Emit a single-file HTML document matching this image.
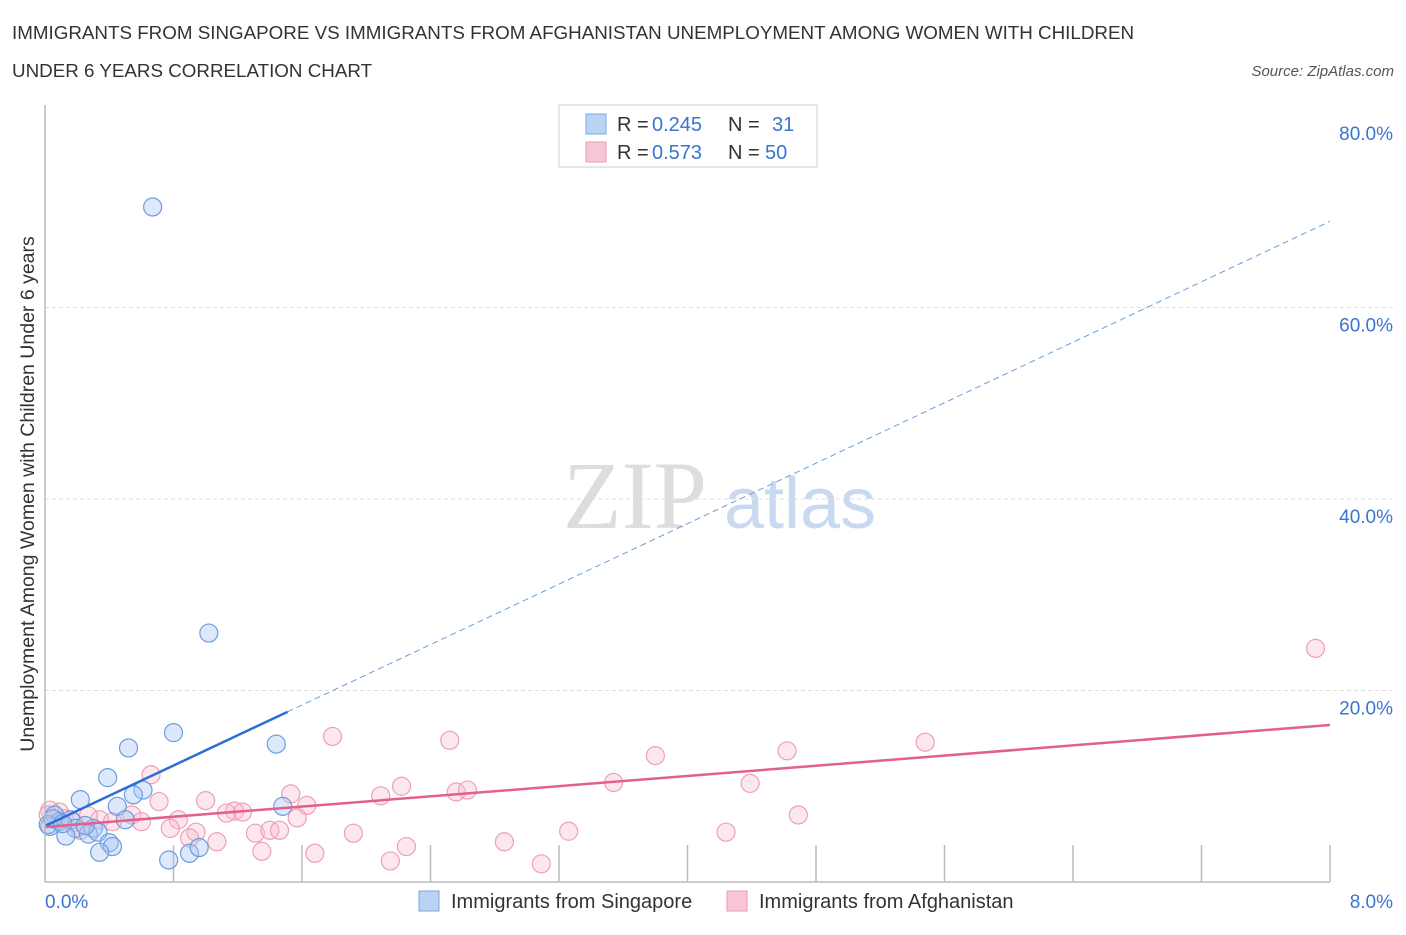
<!DOCTYPE html>
<html><head><meta charset="utf-8"><style>
body{margin:0;background:#fff;font-family:"Liberation Sans",sans-serif;}
</style></head><body>
<svg id="c" width="1406" height="930" xmlns="http://www.w3.org/2000/svg">
<text x="12" y="39" font-size="18.8" fill="#333">IMMIGRANTS FROM SINGAPORE VS IMMIGRANTS FROM AFGHANISTAN UNEMPLOYMENT AMONG WOMEN WITH CHILDREN</text>
<text x="12" y="77" font-size="18.8" fill="#333">UNDER 6 YEARS CORRELATION CHART</text>
<text x="1394" y="76" font-size="15" fill="#555" font-style="italic" text-anchor="end">Source: ZipAtlas.com</text>
<text x="635" y="528" font-size="96" fill="#ddd" font-family="Liberation Serif,serif" text-anchor="middle">ZIP</text>
<text x="800" y="528" font-size="72" fill="#c9daf0" text-anchor="middle">atlas</text>
<text transform="translate(34,494) rotate(-90)" font-size="19.5" fill="#333" text-anchor="middle">Unemployment Among Women with Children Under 6 years</text>
<g id="grid"></g><g id="pts"></g><g id="lines"></g>
<line x1="45" y1="105" x2="45" y2="882" stroke="#bbb" stroke-width="1.5"/>
<line x1="45" y1="882" x2="1330" y2="882" stroke="#bbb" stroke-width="1.5"/>
<text x="45" y="908" font-size="19" fill="#3a74d0">0.0%</text>
<text x="1393" y="908" font-size="19" fill="#3a74d0" text-anchor="end">8.0%</text>
<g>
<rect x="559" y="105" width="258" height="62" fill="#fff" stroke="#ccc"/>
<rect x="586" y="114" width="20" height="20" fill="#b9d3f5" stroke="#7aa6e0"/>
<rect x="586" y="142" width="20" height="20" fill="#f9c6d5" stroke="#e89ab2"/>
<text x="617" y="131" font-size="20" fill="#333">R = <tspan x="652" fill="#3a74d0">0.245</tspan><tspan x="728">N = </tspan><tspan x="772" fill="#3a74d0">31</tspan></text>
<text x="617" y="159" font-size="20" fill="#333">R = <tspan x="652" fill="#3a74d0">0.573</tspan><tspan x="728">N = </tspan><tspan x="765" fill="#3a74d0">50</tspan></text>
</g>
<g>
<rect x="419" y="891" width="20" height="20" fill="#b9d3f5" stroke="#7aa6e0"/>
<text x="451" y="908" font-size="20" fill="#333">Immigrants from Singapore</text>
<rect x="727" y="891" width="20" height="20" fill="#f9c6d5" stroke="#e89ab2"/>
<text x="759" y="908" font-size="20" fill="#333">Immigrants from Afghanistan</text>
</g>
</svg>
<script>
const yTicks=[20,40,60,80];
const xTickCount=10;
const blueX=[0.67,1.02,0.80,0.52,1.44,0.39,0.61,0.55,0.22,0.45,1.48,0.50,0.06,0.09,0.03,0.16,0.19,0.30,0.27,0.13,0.33,0.40,0.42,0.34,0.77,0.90,0.96,0.02,0.05,0.11,0.25];
const blueY=[70.5,26.0,15.6,14.0,14.4,10.9,9.6,9.1,8.6,7.9,7.9,6.5,7.0,6.3,5.8,6.5,5.6,5.6,5.0,4.8,5.2,4.1,3.7,3.1,2.3,3.0,3.6,6.0,6.6,6.1,5.9];
const pinkX=[7.91,5.48,1.79,2.52,3.80,4.62,3.54,4.39,2.22,2.09,2.56,2.63,1.53,0.66,0.71,1.00,1.63,1.18,1.23,1.13,4.69,1.57,0.83,0.54,0.60,0.34,0.42,0.27,0.09,0.03,0.78,0.94,0.90,1.07,1.31,1.40,1.46,1.92,3.26,4.24,1.35,1.68,2.25,2.15,2.86,3.09,0.22,0.02,0.12,0.18];
const pinkY=[24.4,14.6,15.2,14.8,13.2,13.7,10.4,10.3,10.0,9.0,9.4,9.6,9.2,11.2,8.4,8.5,8.0,7.4,7.3,7.2,7.0,6.7,6.5,7.0,6.3,6.5,6.3,6.9,7.3,7.5,5.6,5.2,4.6,4.2,5.1,5.4,5.4,5.1,5.3,5.2,3.2,3.0,3.7,2.2,4.2,1.9,5.4,7.0,6.6,6.2];
const blueTrend=[5.85,69.0];
const pinkTrend=[5.75,16.4];
const blueSolidEnd=1.51;
const NS='http://www.w3.org/2000/svg';
const X=v=>45+v/8*1285, Y=v=>882-v/20*191.5;
function mk(tag,attrs,parent){const e=document.createElementNS(NS,tag);for(const k in attrs)e.setAttribute(k,attrs[k]);document.getElementById(parent).appendChild(e);return e;}
yTicks.forEach(t=>{
 if(t<80){
 const l=mk('line',{x1:45,x2:1393,y1:Y(t),y2:Y(t),stroke:'#ddd','stroke-dasharray':'4,3'},'grid');
 
 
 }
 const tx=mk('text',{x:1393,y:Y(t)+24,'font-size':19,fill:'#3a74d0','text-anchor':'end'},'grid');
 tx.textContent=t.toFixed(1)+'%';
 
 
});
for(let i=1;i<=xTickCount;i++){
 const px=45+i*1285/xTickCount;
 const l=mk('line',{x1:px,x2:px,y1:845,y2:882,stroke:'#bbb','stroke-width':1.5},'grid');
 
 
}
pinkX.forEach((x,i)=>{
 const c=mk('circle',{cx:X(x),cy:Y(pinkY[i]),r:9,fill:'rgba(248,185,205,0.35)',stroke:'#ee9fb8','stroke-width':1.2},'pts');
 
 
});
blueX.forEach((x,i)=>{
 const c=mk('circle',{cx:X(x),cy:Y(blueY[i]),r:9,fill:'rgba(170,200,242,0.4)',stroke:'#6b9ddf','stroke-width':1.2},'pts');
 
 
});
const by=x=>blueTrend[0]+(blueTrend[1]-blueTrend[0])*x/8;
let l=mk('line',{x1:X(0),y1:Y(by(0)),x2:X(blueSolidEnd),y2:Y(by(blueSolidEnd)),stroke:'#2a6fd6','stroke-width':2.5},'lines');


l=mk('line',{x1:X(blueSolidEnd),y1:Y(by(blueSolidEnd)),x2:X(8),y2:Y(by(8)),stroke:'#6a9de0','stroke-width':1,'stroke-dasharray':'6,4'},'lines');


l=mk('line',{x1:X(0),y1:Y(pinkTrend[0]),x2:X(8),y2:Y(pinkTrend[1]),stroke:'#e2608a','stroke-width':2.5},'lines');


</script>
</body></html>
